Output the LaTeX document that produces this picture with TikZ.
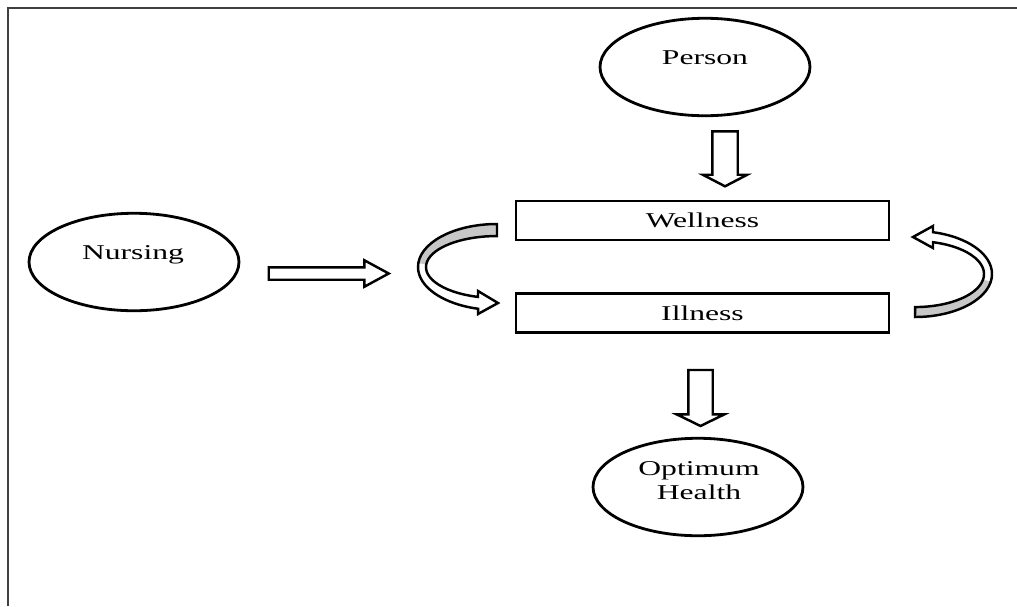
\documentclass[tikz,border=0pt]{standalone}
\usepackage{fontspec}
\setmainfont{Liberation Serif}
\usepackage{graphicx}
\usetikzlibrary{shapes.geometric,shapes.arrows}

\newcommand{\widetxt}[1]{\scalebox{1.5}[1]{#1}}

\begin{document}
\begin{tikzpicture}[x=0.02cm,y=-0.02cm,
	oval/.style={draw,ellipse,line width=1.6pt,minimum width=4.2cm,minimum height=1.95cm},
	stage/.style={draw,rectangle,line width=1.6pt,minimum width=7.46cm,minimum height=0.78cm,inner sep=0pt,font=\fontsize{12}{14}\selectfont},
	txt/.style={anchor=base,inner sep=0pt,font=\fontsize{12}{14}\selectfont},
	fatarrow/.style={draw,single arrow,line width=1.4pt,fill=white,inner xsep=0pt,single arrow head indent=0pt},
	curvearrow/.style={draw,line width=1.4pt,line join=miter},
	shade/.style={fill=black!22}]
	\useasboundingbox (0,0) rectangle (1017,606);
	\draw[line width=1.2pt,black!75] (8,606) -- (8,8) -- (1017,8);
	% ellipses and boxes
	\node[oval] (person) at (705,67) {};
	\node[txt] (person-text) at (705,64) {\widetxt{Person}};
	\node[oval] (nursing) at (134,262) {};
	\node[txt] (nursing-text) at (133,259) {\widetxt{Nursing}};
	\node[stage] (wellness) at (702.5,220.5) {\widetxt{Wellness}};
	\node[stage] (illness) at (702.5,313) {\widetxt{Illness}};
	\node[oval] (health) at (698,487) {};
	\node[txt] (health-text1) at (699,475) {\widetxt{Optimum}};
	\node[txt] (health-text2) at (699,499) {\widetxt{Health}};
	% straight block arrows
	\node[fatarrow,rotate=-90,minimum height=1.1cm,minimum width=0.84cm,inner ysep=0.23cm,single arrow head extend=0.19cm,single arrow tip angle=125] (arrow-person) at (725,155.5) {};
	\node[fatarrow,minimum height=2.4cm,minimum width=0.48cm,inner ysep=0.1cm,single arrow head extend=0.14cm,single arrow tip angle=57] (arrow-nursing) at (323,273.5) {};
	\node[fatarrow,rotate=-90,minimum height=1.12cm,minimum width=0.9cm,inner ysep=0.22cm,single arrow head extend=0.23cm,single arrow tip angle=128] (arrow-health) at (700.5,395) {};
	% curved arrow on the left
	\fill[white] (497,224) arc[start angle=270,end angle=103.9,x radius=79,y radius=43] -- (478,314) -- (498,303) -- (478,291) -- (478,296.9) arc[start angle=105.5,end angle=270,x radius=71,y radius=31] -- cycle;
	\fill[shade] (497,224) arc[start angle=270,end angle=185,x radius=79,y radius=43] -- (426.27,264.3) arc[start angle=185,end angle=270,x radius=71,y radius=31] -- cycle;
	\draw[curvearrow] (497,224) arc[start angle=270,end angle=103.9,x radius=79,y radius=43] -- (478,314) -- (498,303) -- (478,291) -- (478,296.9) arc[start angle=105.5,end angle=270,x radius=71,y radius=31] -- cycle;
	% curved arrow on the right
	\fill[white] (915,317) arc[start angle=90,end angle=-76.5,x radius=77,y radius=43] -- (933,226) -- (913,237) -- (933,248) -- (933,242.2) arc[start angle=-74.9,end angle=90,x radius=69,y radius=33] -- cycle;
	\fill[shade] (915,317) arc[start angle=90,end angle=10,x radius=77,y radius=43] -- (982.95,279.73) arc[start angle=10,end angle=90,x radius=69,y radius=33] -- cycle;
	\draw[curvearrow] (915,317) arc[start angle=90,end angle=-76.5,x radius=77,y radius=43] -- (933,226) -- (913,237) -- (933,248) -- (933,242.2) arc[start angle=-74.9,end angle=90,x radius=69,y radius=33] -- cycle;
\end{tikzpicture}
\end{document}
